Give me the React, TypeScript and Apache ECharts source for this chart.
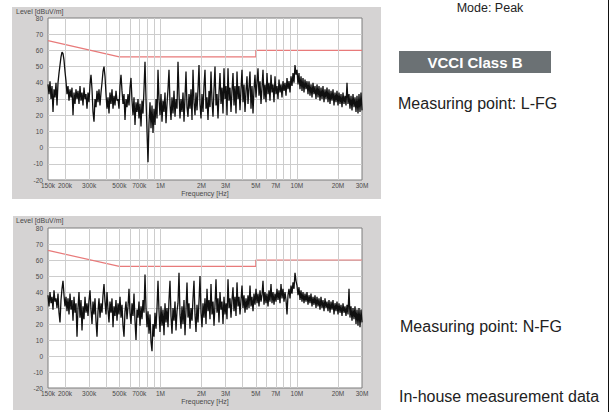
import React, { useEffect, useRef } from 'react';
import * as echarts from 'echarts';

// Receiver sweep (log-spaced measurement points)
const SWEEP_START_HZ = 150000;
const SWEEP_STOP_HZ = 30000000;

// Measured level, Measuring point L-FG [dBuV/m]
const LEVEL_L_FG = [
  39, 33, 41, 30, 38, 22, 36, 31, 40, 26,
  40, 46, 51, 56, 59, 58, 54, 47, 41, 33,
  38, 29, 36, 31, 37, 20, 34, 27, 36, 30,
  35, 27, 38, 29, 34, 26, 37, 30, 33, 24,
  34, 28, 39, 45, 36, 22, 16, 30, 25, 35,
  28, 36, 26, 34, 40, 47, 50, 44, 33, 24,
  31, 21, 34, 27, 36, 24, 32, 26, 35, 29,
  30, 24, 38, 45, 35, 27, 33, 17, 30, 25,
  33, 26, 37, 43, 29, 20, 31, 14, 28, 22,
  30, 18, 27, 13, 29, 21, 36, 53, 30, 10,
  -9, 15, 28, 12, 26, 9, 24, 14, 30, 18,
  48, 30, 20, 33, 16, 29, 22, 34, 15, 27,
  36, 48, 27, 17, 31, 21, 35, 19, 30, 24,
  53, 33, 18, 30, 22, 34, 16, 31, 47, 25,
  19, 33, 24, 36, 17, 48, 28, 20, 34, 23,
  36, 51, 27, 18, 33, 22, 38, 48, 24, 31,
  17, 35, 25, 47, 29, 19, 36, 50, 26, 33,
  18, 34, 46, 27, 37, 21, 49, 30, 38, 20,
  49, 29, 37, 22, 35, 46, 26, 38, 21, 47,
  30, 38, 23, 36, 48, 28, 39, 22, 35, 44,
  27, 37, 47, 24, 38, 21, 36, 45, 31, 40,
  49, 32, 41, 27, 37, 48, 30, 39, 28, 46,
  33, 40, 29, 45, 34, 39, 28, 44, 33, 38,
  30, 42, 34, 39, 31, 41, 35, 40, 32, 43,
  36, 41, 34, 44, 38, 46, 40, 51, 45, 48,
  39, 46, 36, 44, 35, 43, 34, 42, 36, 41,
  33, 41, 32, 39, 31, 40, 33, 38, 30, 39,
  31, 38, 29, 37, 30, 38, 28, 36, 30, 37,
  28, 36, 27, 35, 29, 36, 26, 34, 28, 35,
  26, 34, 27, 33, 25, 34, 27, 32, 26, 40,
  27, 33, 24, 32, 23, 33, 25, 31, 22, 32,
  21, 33, 22, 34, 23,
];

// Measured level, Measuring point N-FG [dBuV/m]
const LEVEL_N_FG = [
  38, 31, 40, 33, 37, 29, 41, 34, 36, 30,
  39, 27, 21, 35, 42, 47, 38, 31, 37, 28,
  36, 26, 39, 29, 35, 22, 37, 27, 33, 12,
  30, 40, 24, 35, 16, 31, 23, 37, 27, 33,
  25, 35, 41, 29, 20, 34, 26, 36, 22, 12,
  28, 36, 24, 33, 27, 38, 45, 34, 26, 40,
  29, 21, 34, 27, 36, 18, 31, 25, 35, 22,
  33, 26, 37, 24, 32, 19, 12, 28, 34, 23,
  31, 42, 27, 20, 33, 25, 39, 22, 10, 29,
  24, 34, 19, 31, 23, 35, 27, 51, 30, 18,
  28, 14, 26, 9, 3, 20, 12, 27, 17, 30,
  47, 28, 15, 31, 19, 29, 13, 33, 21, 30,
  18, 35, 47, 25, 14, 30, 22, 34, 16, 28,
  33, 52, 26, 17, 31, 20, 35, 13, 29, 46,
  24, 33, 17, 30, 22, 36, 47, 26, 15, 32,
  21, 34, 50, 27, 18, 33, 24, 36, 20, 42,
  28, 35, 23, 45, 26, 34, 19, 32, 48, 27,
  36, 21, 40, 29, 34, 20, 37, 26, 33, 23,
  48, 30, 36, 24, 35, 43, 28, 37, 25, 46,
  31, 37, 26, 35, 44, 30, 38, 27, 36, 29,
  38, 30, 44, 31, 37, 28, 39, 32, 42, 33,
  39, 31, 41, 34, 38, 47, 32, 40, 33, 39,
  31, 41, 34, 45, 33, 40, 32, 39, 34, 42,
  35, 41, 33, 45, 36, 42, 34, 40, 35, 26,
  38, 42, 36, 44, 39, 46, 42, 52, 47, 44,
  38, 43, 35, 41, 34, 40, 33, 39, 34, 40,
  32, 38, 33, 39, 31, 37, 32, 38, 30, 37,
  31, 36, 29, 37, 30, 35, 28, 36, 30, 34,
  28, 35, 27, 34, 29, 35, 26, 33, 28, 34,
  26, 33, 27, 32, 25, 33, 27, 31, 25, 32,
  26, 42, 24, 31, 22, 30, 23, 31, 20, 29,
  19, 30, 18, 29, 21,
];

// VCCI Class B limit
const LIMIT_FREQ_HZ = [150000, 500000, 5000000, 5000000, 30000000];
const LIMIT_DBUV = [66, 56, 56, 60, 60];

// Axes
const X_MIN_HZ = 150000;
const X_MAX_HZ = 30000000;
const GRID_FREQ_HZ = [
  200000, 300000, 400000, 500000, 600000, 700000, 800000, 900000,
  1000000, 2000000, 3000000, 4000000, 5000000, 6000000, 7000000, 8000000, 9000000,
  10000000, 20000000,
];
const X_TICK_FREQ_HZ = [150000, 200000, 300000, 500000, 700000, 1000000, 2000000, 3000000, 5000000, 7000000, 10000000, 20000000, 30000000];
const X_TICK_LABELS = ['150k', '200k', '300k', '500k', '700k', '1M', '2M', '3M', '5M', '7M', '10M', '20M', '30M'];
const Y_MIN = -20;
const Y_MAX = 80;
const Y_STEP = 10;

const FONT = '"Liberation Sans", Arial, Helvetica, sans-serif';
const AXIS_TEXT = '#4a4a4a';
const GRID_LINE = '#cdcdcd';
const PANEL = '#d5d3d3';

function sweepFreq(i: number, n: number) {
  return SWEEP_START_HZ * Math.pow(SWEEP_STOP_HZ / SWEEP_START_HZ, i / (n - 1));
}
const toPairs = (levels: number[]) => levels.map((v, i) => [sweepFreq(i, levels.length), v]);
const limitPairs = LIMIT_FREQ_HZ.map((f, i) => [f, LIMIT_DBUV[i]]);

function gridMarkLine() {
  const all = Array.from(new Set([...GRID_FREQ_HZ, ...X_TICK_FREQ_HZ])).sort((a, b) => a - b);
  return {
    silent: true,
    symbol: ['none', 'none'],
    animation: false,
    lineStyle: { color: GRID_LINE, width: 1, type: 'solid' },
    label: { show: false },
    emphasis: { disabled: true },
    data: all.map((f) => {
      const ti = X_TICK_FREQ_HZ.indexOf(f);
      const isBorder = f === X_MIN_HZ || f === X_MAX_HZ;
      return {
        xAxis: f,
        lineStyle: { color: isBorder ? 'rgba(0,0,0,0)' : GRID_LINE, width: 1, type: 'solid' },
        label:
          ti >= 0
            ? {
                show: true,
                position: 'start',
                formatter: X_TICK_LABELS[ti],
                distance: 2,
                fontSize: 6.5,
                color: AXIS_TEXT,
                fontFamily: FONT,
              }
            : { show: false },
      };
    }),
  };
}

function panelAxes(k: number) {
  return {
    x: {
      type: 'log',
      logBase: 10,
      gridIndex: k,
      min: X_MIN_HZ,
      max: X_MAX_HZ,
      z: 2,
      axisLine: { show: false },
      axisTick: { show: false },
      axisLabel: { show: false },
      splitLine: { show: false },
      name: 'Frequency [Hz]',
      nameLocation: 'middle',
      nameGap: 10,
      nameTextStyle: { fontSize: 7, color: AXIS_TEXT, fontFamily: FONT },
    },
    y: {
      type: 'value',
      gridIndex: k,
      min: Y_MIN,
      max: Y_MAX,
      interval: Y_STEP,
      z: 2,
      axisLine: { show: false },
      axisTick: { show: false },
      axisLabel: { fontSize: 6.5, color: AXIS_TEXT, fontFamily: FONT, margin: 5 },
      splitLine: {
        show: true,
        showMinLine: false,
        showMaxLine: false,
        lineStyle: { color: GRID_LINE, width: 1 },
      },
    },
  };
}

function panelSeries(k: number, levels: number[]) {
  return [
    {
      type: 'line',
      xAxisIndex: k,
      yAxisIndex: k,
      data: limitPairs,
      symbol: 'none',
      z: 3,
      silent: true,
      lineStyle: { color: '#e87a7a', width: 1.2 },
      markLine: gridMarkLine(),
    },
    {
      type: 'line',
      xAxisIndex: k,
      yAxisIndex: k,
      data: toPairs(levels),
      symbol: 'none',
      z: 5,
      silent: true,
      lineStyle: { color: '#101010', width: 1.3 },
    },
  ];
}

const txt = (x: number, y: number, text: string, size: number, opts: any = {}) => ({
  type: 'text',
  z: 10,
  silent: true,
  x,
  y,
  style: {
    text,
    fill: opts.fill || '#222',
    fontSize: size,
    fontWeight: opts.bold ? 'bold' : 'normal',
    fontFamily: FONT,
    textAlign: opts.align || 'left',
    align: opts.align || 'left',
    textVerticalAlign: 'middle',
    verticalAlign: 'middle',
  },
});

export default function App() {
  const ref = useRef<HTMLDivElement>(null);
  useEffect(() => {
    if (!ref.current) return;
    const chart = echarts.init(ref.current, undefined, { renderer: 'svg' });
    const a0 = panelAxes(0);
    const a1 = panelAxes(1);
    chart.setOption({
      animation: false,
      backgroundColor: '#ffffff',
      grid: [
        { left: 48, top: 18, width: 314, height: 162, show: true, backgroundColor: '#ffffff', borderColor: '#7d7d7d', borderWidth: 1, z: 1 },
        { left: 48, top: 228, width: 314, height: 160, show: true, backgroundColor: '#ffffff', borderColor: '#7d7d7d', borderWidth: 1, z: 1 },
      ],
      xAxis: [a0.x, a1.x],
      yAxis: [a0.y, a1.y],
      series: [...panelSeries(0, LEVEL_L_FG), ...panelSeries(1, LEVEL_N_FG)],
      graphic: [
        { type: 'rect', z: 0, silent: true, shape: { x: 12, y: 7, width: 369, height: 192 }, style: { fill: PANEL } },
        { type: 'rect', z: 0, silent: true, shape: { x: 13, y: 216, width: 368, height: 194 }, style: { fill: PANEL } },
        txt(16, 11, 'Level [dBuV/m]', 7, { fill: AXIS_TEXT }),
        txt(16, 220, 'Level [dBuV/m]', 7, { fill: AXIS_TEXT }),
        { type: 'line', z: 10, silent: true, shape: { x1: 608.5, y1: 0, x2: 608.5, y2: 412 }, style: { stroke: '#111', lineWidth: 1 } },
        txt(490, 8, 'Mode: Peak', 12.5, { align: 'center' }),
        { type: 'rect', z: 9, silent: true, shape: { x: 399, y: 51, width: 152, height: 22 }, style: { fill: '#6b7174' } },
        txt(475, 62, 'VCCI Class B', 15, { align: 'center', bold: true, fill: '#ffffff' }),
        txt(398, 103, 'Measuring point: L-FG', 16),
        txt(400, 326.5, 'Measuring point: N-FG', 16),
        txt(399, 396.7, 'In-house measurement data', 16),
      ],
    });
    return () => chart.dispose();
  }, []);
  return <div ref={ref} style={{ position: 'absolute', left: 0, top: 0, width: 613, height: 412 }} />;
}
